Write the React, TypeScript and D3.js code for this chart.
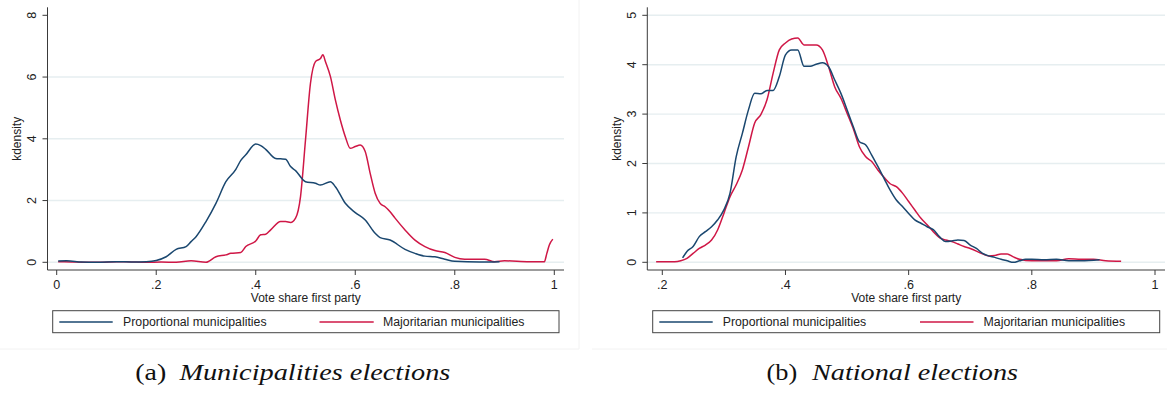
import React from "react";
import * as d3 from "d3";

// Kernel density estimates of the first party's vote share.
// Municipal elections: x values and densities per group.
const munPropX = [0.003, 0.02, 0.05, 0.08, 0.12, 0.15, 0.18, 0.2, 0.22, 0.24, 0.26, 0.27, 0.28, 0.3, 0.32, 0.34, 0.36, 0.37, 0.38, 0.4, 0.41, 0.42, 0.44, 0.45, 0.46, 0.47, 0.48, 0.5, 0.52, 0.53, 0.55, 0.56, 0.58, 0.6, 0.62, 0.64, 0.65, 0.67, 0.7, 0.72, 0.74, 0.76, 0.78, 0.8, 0.85, 0.89];
const munPropY = [0.04, 0.05, 0.01, 0.0, 0.02, 0.01, 0.02, 0.06, 0.18, 0.42, 0.51, 0.67, 0.83, 1.32, 1.91, 2.61, 3.01, 3.3, 3.48, 3.83, 3.78, 3.66, 3.36, 3.35, 3.34, 3.1, 2.97, 2.61, 2.56, 2.5, 2.61, 2.45, 1.91, 1.61, 1.37, 0.94, 0.8, 0.72, 0.42, 0.29, 0.2, 0.18, 0.1, 0.03, 0.01, 0.02];

const munMajX = [0.003, 0.03, 0.06, 0.09, 0.12, 0.15, 0.18, 0.21, 0.24, 0.27, 0.3, 0.32, 0.34, 0.35, 0.37, 0.38, 0.4, 0.41, 0.42, 0.43, 0.45, 0.46, 0.47, 0.48, 0.49, 0.5, 0.51, 0.52, 0.53, 0.535, 0.54, 0.55, 0.56, 0.57, 0.58, 0.59, 0.6, 0.61, 0.62, 0.63, 0.64, 0.65, 0.66, 0.67, 0.68, 0.7, 0.72, 0.74, 0.76, 0.78, 0.8, 0.82, 0.86, 0.88, 0.9, 0.95, 0.98, 0.985, 0.99, 0.997];
const munMajY = [0.02, 0.01, 0.0, 0.0, 0.02, 0.01, 0.0, 0.01, 0.0, 0.05, 0.0, 0.18, 0.24, 0.29, 0.32, 0.51, 0.69, 0.89, 0.91, 1.05, 1.32, 1.32, 1.29, 1.43, 2.13, 3.96, 5.8, 6.5, 6.6, 6.72, 6.5, 6.02, 5.26, 4.61, 4.07, 3.69, 3.75, 3.8, 3.59, 2.88, 2.24, 1.91, 1.8, 1.64, 1.43, 1.05, 0.72, 0.51, 0.38, 0.32, 0.16, 0.1, 0.1, 0.02, 0.05, 0.02, 0.02, 0.29, 0.56, 0.75];

// National elections.
const natPropX = [0.233, 0.24, 0.25, 0.26, 0.27, 0.28, 0.29, 0.3, 0.31, 0.32, 0.33, 0.34, 0.35, 0.36, 0.37, 0.38, 0.39, 0.4, 0.41, 0.42, 0.43, 0.44, 0.45, 0.46, 0.47, 0.48, 0.49, 0.5, 0.51, 0.52, 0.53, 0.54, 0.55, 0.56, 0.57, 0.58, 0.59, 0.6, 0.61, 0.62, 0.63, 0.64, 0.65, 0.66, 0.67, 0.68, 0.69, 0.7, 0.71, 0.72, 0.73, 0.74, 0.75, 0.76, 0.77, 0.78, 0.79, 0.8, 0.82, 0.84, 0.86, 0.88, 0.91];
const natPropY = [0.09, 0.22, 0.32, 0.52, 0.62, 0.72, 0.86, 1.06, 1.4, 2.14, 2.61, 3.09, 3.42, 3.41, 3.48, 3.48, 3.76, 4.2, 4.3, 4.3, 3.97, 3.97, 4.01, 4.04, 3.96, 3.69, 3.42, 3.09, 2.75, 2.44, 2.38, 2.17, 1.94, 1.7, 1.46, 1.26, 1.13, 0.99, 0.86, 0.79, 0.72, 0.66, 0.52, 0.42, 0.43, 0.45, 0.44, 0.35, 0.28, 0.18, 0.13, 0.1, 0.06, 0.03, 0.0, 0.03, 0.06, 0.06, 0.05, 0.06, 0.03, 0.03, 0.05];

const natMajX = [0.19, 0.2, 0.22, 0.23, 0.24, 0.25, 0.26, 0.27, 0.28, 0.29, 0.3, 0.31, 0.32, 0.33, 0.34, 0.35, 0.36, 0.37, 0.38, 0.39, 0.4, 0.41, 0.42, 0.43, 0.44, 0.45, 0.46, 0.47, 0.48, 0.49, 0.5, 0.51, 0.52, 0.53, 0.54, 0.55, 0.56, 0.57, 0.58, 0.59, 0.6, 0.61, 0.62, 0.63, 0.64, 0.65, 0.66, 0.67, 0.68, 0.69, 0.7, 0.72, 0.73, 0.74, 0.75, 0.76, 0.77, 0.78, 0.8, 0.82, 0.84, 0.86, 0.88, 0.9, 0.92, 0.945];
const natMajY = [0.01, 0.01, 0.01, 0.03, 0.08, 0.18, 0.28, 0.35, 0.45, 0.66, 0.99, 1.33, 1.57, 1.87, 2.34, 2.82, 2.99, 3.29, 3.83, 4.3, 4.44, 4.52, 4.54, 4.4, 4.4, 4.4, 4.3, 3.96, 3.55, 3.32, 3.02, 2.71, 2.34, 2.14, 2.04, 1.87, 1.72, 1.59, 1.53, 1.4, 1.23, 1.06, 0.89, 0.76, 0.62, 0.5, 0.45, 0.42, 0.37, 0.32, 0.28, 0.17, 0.13, 0.14, 0.17, 0.17, 0.11, 0.06, 0.03, 0.03, 0.03, 0.07, 0.06, 0.06, 0.03, 0.02];

const munXTicks = [0, 0.2, 0.4, 0.6, 0.8, 1];
const munYTicks = [0, 2, 4, 6, 8];
const natXTicks = [0.2, 0.4, 0.6, 0.8, 1];
const natYTicks = [0, 1, 2, 3, 4, 5];

const seriesNames = ["Proportional municipalities", "Majoritarian municipalities"];
const BLUE = "#1a476f";
const RED = "#cf1746";
const GRID = "#e6eef0";
const AXIS = "#3a3a3a";
const SANS = "Liberation Sans, Arimo, Arial, sans-serif";
const SERIF = "Liberation Serif, Tinos, Times New Roman, serif";

// x ticks: ".2" style (no leading zero); y ticks: integers
const fmtX = (v: number) => (v === 0 || v === 1 ? String(v) : d3.format(".1f")(v).replace(/^0/, ""));
const fmtY = d3.format("d");

type PanelProps = {
  left: number; // y-axis position
  right: number; // right edge of plot region
  xDomain: [number, number];
  xRange: [number, number];
  yMax: number;
  xTicks: number[];
  yTicks: number[];
  gridTicks: number[];
  prop: [number[], number[]];
  maj: [number[], number[]];
  legend: { x0: number; x1: number; line1: [number, number]; text1: number; line2: [number, number]; text2: number };
  caption: { label: string; labelX: number; labelW: number; title: string; titleX: number; titleW: number };
};

function Panel(p: PanelProps) {
  const x = d3.scaleLinear().domain(p.xDomain).range(p.xRange);
  const y = d3.scaleLinear().domain([0, p.yMax]).range([262.3, 15.3]);
  const axisY = 270;
  const line = d3
    .line<[number, number]>()
    .x((d) => x(d[0]))
    .y((d) => y(d[1]))
    .curve(d3.curveMonotoneX);
  const zip = (xs: number[], ys: number[]) => xs.map((v, i) => [v, ys[i]] as [number, number]);
  const labelX = p.left - 11.5;
  const midY = (y(0) + y(p.yMax)) / 2;
  const plotMid = (p.legend.x0 + p.legend.x1) / 2;
  return (
    <g>
      {p.gridTicks.map((t) => (
        <line key={"g" + t} x1={p.left} x2={p.right} y1={y(t)} y2={y(t)} stroke={GRID} strokeWidth={1.4} />
      ))}
      <path d={line(zip(p.maj[0], p.maj[1])) || ""} fill="none" stroke={RED} strokeWidth={1.5} />
      <path d={line(zip(p.prop[0], p.prop[1])) || ""} fill="none" stroke={BLUE} strokeWidth={1.5} />
      {/* axes */}
      <line x1={p.left} x2={p.left} y1={y(p.yMax) - 8} y2={axisY} stroke={AXIS} strokeWidth={1} />
      <line x1={p.left} x2={p.right} y1={axisY} y2={axisY} stroke={AXIS} strokeWidth={1} />
      {p.yTicks.map((t) => (
        <g key={"y" + t}>
          <line x1={p.left - 5} x2={p.left} y1={y(t)} y2={y(t)} stroke={AXIS} strokeWidth={1} />
          <text
            transform={`translate(${labelX},${y(t)}) rotate(-90)`}
            textAnchor="middle"
            fontFamily={SANS}
            fontSize={12.5}
            fill="#222"
          >
            {fmtY(t)}
          </text>
        </g>
      ))}
      {p.xTicks.map((t) => (
        <g key={"x" + t}>
          <line x1={x(t)} x2={x(t)} y1={axisY} y2={axisY + 5} stroke={AXIS} strokeWidth={1} />
          <text x={x(t)} y={289} textAnchor="middle" fontFamily={SANS} fontSize={12.5} fill="#222">
            {fmtX(t)}
          </text>
        </g>
      ))}
      <text
        transform={`translate(${p.left - 26.5},${midY}) rotate(-90)`}
        textAnchor="middle"
        fontFamily={SANS}
        fontSize={12}
        fill="#222"
      >
        kdensity
      </text>
      <text x={plotMid} y={302} textAnchor="middle" fontFamily={SANS} fontSize={12} fill="#222">
        Vote share first party
      </text>
      {/* legend */}
      <rect
        x={p.legend.x0}
        y={310.7}
        width={p.legend.x1 - p.legend.x0}
        height={22}
        fill="#fff"
        stroke="#444"
        strokeWidth={1}
      />
      <line x1={p.legend.line1[0]} x2={p.legend.line1[1]} y1={322} y2={322} stroke={BLUE} strokeWidth={1.5} />
      <text x={p.legend.text1} y={326.3} fontFamily={SANS} fontSize={12.3} fill="#222">
        {seriesNames[0]}
      </text>
      <line x1={p.legend.line2[0]} x2={p.legend.line2[1]} y1={322} y2={322} stroke={RED} strokeWidth={1.5} />
      <text x={p.legend.text2} y={326.3} fontFamily={SANS} fontSize={12.3} fill="#222">
        {seriesNames[1]}
      </text>
      {/* caption */}
      <text
        x={p.caption.labelX}
        y={380}
        fontFamily={SERIF}
        fontSize={24}
        fill="#111"
        textLength={p.caption.labelW}
        lengthAdjust="spacingAndGlyphs"
      >
        {p.caption.label}
      </text>
      <text
        x={p.caption.titleX}
        y={380}
        fontFamily={SERIF}
        fontStyle="italic"
        fontSize={24}
        fill="#111"
        textLength={p.caption.titleW}
        lengthAdjust="spacingAndGlyphs"
      >
        {p.caption.title}
      </text>
    </g>
  );
}

export default function App() {
  return (
    <svg
      width={1167}
      height={395}
      style={{ position: "absolute", left: 0, top: 0, background: "#fff" }}
    >
      <rect width={1167} height={395} fill="#fff" />
      {/* faint graph-region edges */}
      <line x1={0} x2={579} y1={349} y2={349} stroke="#f2f2f2" strokeWidth={1} />
      <line x1={579} x2={579} y1={0} y2={349} stroke="#f2f2f2" strokeWidth={1} />
      <line x1={592} x2={1167} y1={349} y2={349} stroke="#f2f2f2" strokeWidth={1} />
      <Panel
        left={47.5}
        right={564}
        xDomain={[0, 1]}
        xRange={[56.7, 554.3]}
        yMax={8}
        xTicks={munXTicks}
        yTicks={munYTicks}
        gridTicks={[0, 2, 4, 6]}
        prop={[munPropX, munPropY]}
        maj={[munMajX, munMajY]}
        legend={{ x0: 52.7, x1: 559, line1: [59.3, 112.7], text1: 123, line2: [319.5, 373.7], text2: 383 }}
        caption={{ label: "(a)", labelX: 135.3, labelW: 31, title: "Municipalities elections", titleX: 179.4, titleW: 271 }}
      />
      <Panel
        left={647.3}
        right={1165}
        xDomain={[0.2, 1]}
        xRange={[662.3, 1155]}
        yMax={5}
        xTicks={natXTicks}
        yTicks={natYTicks}
        gridTicks={[0, 1, 2, 3, 4, 5]}
        prop={[natPropX, natPropY]}
        maj={[natMajX, natMajY]}
        legend={{ x0: 652.7, x1: 1159.7, line1: [659.3, 712.7], text1: 722.7, line2: [920, 973.5], text2: 983.6 }}
        caption={{ label: "(b)", labelX: 766.5, labelW: 30.7, title: "National elections", titleX: 812, titleW: 206 }}
      />
    </svg>
  );
}
